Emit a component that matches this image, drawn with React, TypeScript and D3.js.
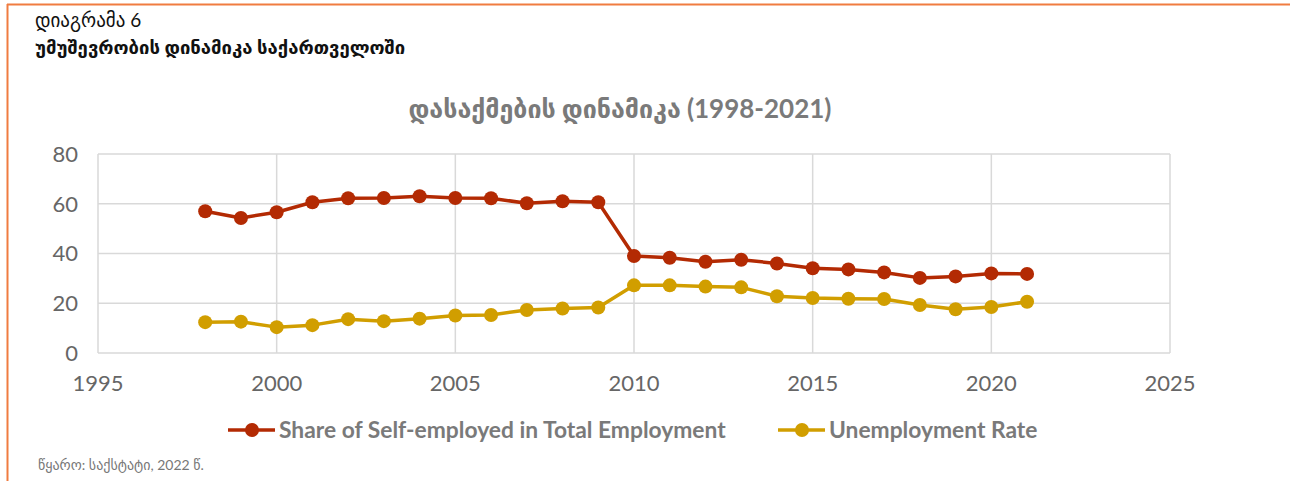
import * as d3 from 'd3';

const width = 1290;
const height = 481;

const years = d3.range(1998, 2022);
const selfEmployed = [57.0, 54.3, 56.6, 60.6, 62.2, 62.3, 63.0, 62.3, 62.2, 60.2, 61.0, 60.6, 39.0, 38.3, 36.7, 37.5, 36.0, 34.1, 33.6, 32.4, 30.2, 30.8, 32.0, 31.8];
const unemployment = [12.4, 12.6, 10.4, 11.2, 13.6, 12.8, 13.8, 15.1, 15.3, 17.3, 17.9, 18.3, 27.2, 27.2, 26.7, 26.4, 22.8, 22.1, 21.8, 21.7, 19.3, 17.6, 18.5, 20.6];
const xTicks = [1995, 2000, 2005, 2010, 2015, 2020, 2025];
const yTicks = [0, 20, 40, 60, 80];

const series = [
  { name: 'Share of Self-employed in Total Employment', values: selfEmployed, color: '#b32a03' },
  { name: 'Unemployment Rate', values: unemployment, color: '#d19e00' },
];

const font = "Lato, 'DejaVu Sans', sans-serif";

export default function App() {
  const x = d3.scaleLinear().domain([1995, 2025]).range([98, 1170]);
  const y = d3.scaleLinear().domain([0, 80]).range([353, 154]);

  const line = d3.line<number>()
    .x((_, i) => x(years[i]))
    .y((d) => y(d));

  const legendPos = [228, 778];

  return (
    <svg width={width} height={height} style={{ position: 'absolute', left: 0, top: 0, fontFamily: font }}>
      <rect x={0} y={0} width={width} height={height} fill="#fff" />
      {/* orange frame */}
      <line x1={7} x2={width} y1={4.5} y2={4.5} stroke="#f07c40" strokeWidth={2} />
      <line x1={7.5} x2={7.5} y1={4} y2={height} stroke="#f07c40" strokeWidth={2} />

      <text x={35} y={27} fontSize={19} fill="#111">დიაგრამა 6</text>
      <text x={35} y={54} fontSize={18.5} fontWeight="bold" fill="#111">უმუშევრობის დინამიკა საქართველოში</text>

      <text x={620} y={118} fontSize={25} fontWeight="bold" fill="#7a7a7a" textAnchor="middle">
        დასაქმების დინამიკა <tspan fontSize={26}>(1998-2021)</tspan>
      </text>

      {/* grid */}
      {yTicks.map((t) => (
        <g key={'y' + t}>
          <line x1={x(1995)} x2={x(2025)} y1={y(t)} y2={y(t)} stroke="#d9d9d9" strokeWidth={1.5} />
          <text x={78} y={y(t)} dy="0.36em" fontSize={22} fill="#666" textAnchor="end">{t}</text>
        </g>
      ))}
      {xTicks.map((t) => (
        <g key={'x' + t}>
          <line x1={x(t)} x2={x(t)} y1={y(0)} y2={y(80)} stroke="#d9d9d9" strokeWidth={1.5} />
          <text x={x(t)} y={391} fontSize={22} fill="#666" textAnchor="middle">{t}</text>
        </g>
      ))}

      {series.map((s) => (
        <g key={s.name}>
          <path d={line(s.values) || ''} fill="none" stroke={s.color} strokeWidth={3.5} strokeLinejoin="round" />
          {s.values.map((v, i) => (
            <circle key={i} cx={x(years[i])} cy={y(v)} r={7} fill={s.color} />
          ))}
        </g>
      ))}

      {series.map((s, i) => (
        <g key={'lg' + i} transform={`translate(${legendPos[i]},430)`}>
          <line x1={0} x2={47} y1={0} y2={0} stroke={s.color} strokeWidth={3.5} />
          <circle cx={24} cy={0} r={7} fill={s.color} />
          <text x={51} y={0} dy="0.36em" fontSize={22.8} fontWeight="bold" fill="#7a7a7a">{s.name}</text>
        </g>
      ))}

      <text x={38} y={470} fontSize={14} fill="#777">წყარო: საქსტატი, 2022 წ.</text>
    </svg>
  );
}
